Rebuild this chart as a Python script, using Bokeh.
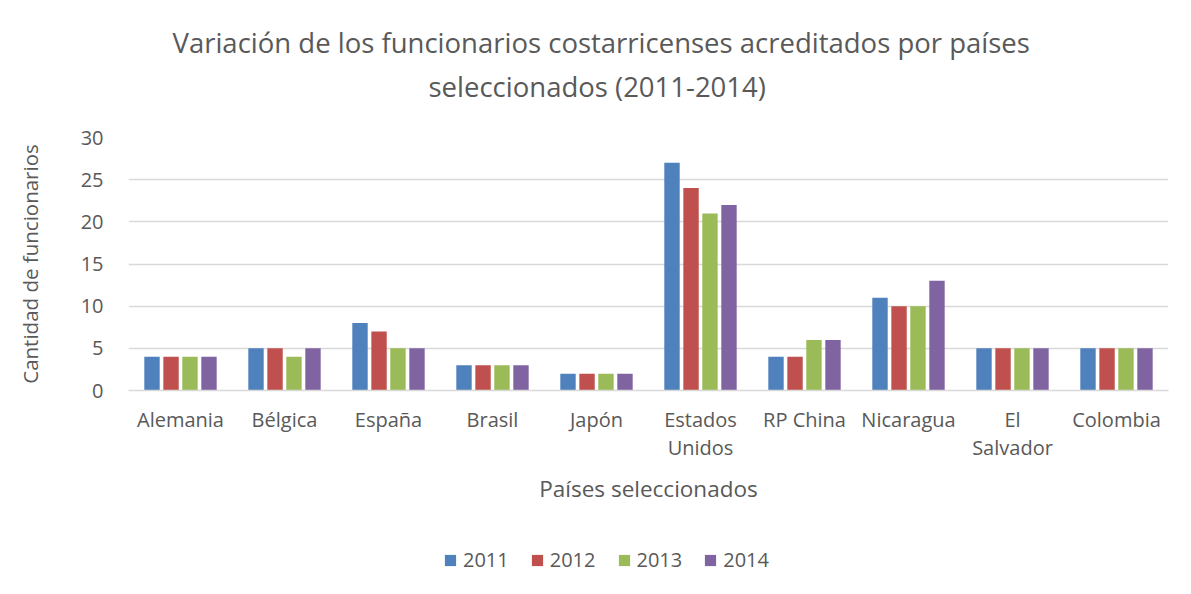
from bokeh.plotting import figure
from bokeh.layouts import column
from bokeh.models import ColumnDataSource, FactorRange, Range1d, Legend, LegendItem, Title, FixedTicker
from bokeh.transform import dodge
from bokeh.embed import file_html
from bokeh.resources import INLINE

countries = ["Alemania", "Bélgica", "España", "Brasil", "Japón", "Estados\nUnidos",
             "RP China", "Nicaragua", "El\nSalvador", "Colombia"]
years = ["2011", "2012", "2013", "2014"]
v2011 = [4, 5, 8, 3, 2, 27, 4, 11, 5, 5]
v2012 = [4, 5, 7, 3, 2, 24, 4, 10, 5, 5]
v2013 = [4, 4, 5, 3, 2, 21, 6, 10, 5, 5]
v2014 = [4, 5, 5, 3, 2, 22, 6, 13, 5, 5]
colors = ["#4F81BD", "#C0504D", "#9BBB59", "#8064A2"]
yticks = [0, 5, 10, 15, 20, 25, 30]

FONT = "Open Sans"
TXT = "#595959"

src = ColumnDataSource(dict(country=countries, y2011=v2011, y2012=v2012, y2013=v2013, y2014=v2014))
xr = FactorRange(*countries, range_padding=0)

p = figure(x_range=xr, y_range=Range1d(0, 30),
           frame_width=1040, frame_height=253, output_backend="svg", toolbar_location=None,
           min_border_left=128, min_border_right=15, min_border_top=137, min_border_bottom=140)
p.outline_line_color = None

offsets = [-0.274, -0.091, 0.091, 0.274]
cols = ["y2011", "y2012", "y2013", "y2014"]
for c, off, col in zip(cols, offsets, colors):
    p.vbar(x=dodge("country", off, range=xr), top=c, width=0.148, bottom=0,
           source=src, fill_color=col, line_color=None)

spacer = Title(text=" ", align="left", text_font=FONT, text_font_size="1px", standoff=27)
t2 = Title(text="seleccionados (2011-2014)", align="left", text_font=FONT, text_font_size="27.5px",
           text_color=TXT, text_font_style="normal", offset=300, standoff=6)
t1 = Title(text="Variación de los funcionarios costarricenses acreditados por países", align="left",
           text_font=FONT, text_font_size="27.5px", text_color=TXT, text_font_style="normal",
           offset=44, standoff=3)
p.add_layout(spacer, "above")
p.add_layout(t2, "above")
p.add_layout(t1, "above")

p.xgrid.grid_line_color = None
p.ygrid.grid_line_color = "#D9D9D9"
p.ygrid.grid_line_width = 1.5
p.yaxis.ticker = FixedTicker(ticks=yticks)

for ax in (p.xaxis[0], p.yaxis[0]):
    ax.major_tick_line_color = None
    ax.minor_tick_line_color = None
    ax.major_label_text_font = FONT
    ax.major_label_text_font_size = "20px"
    ax.major_label_text_color = TXT
    ax.axis_label_text_font = FONT
    ax.axis_label_text_color = TXT
    ax.axis_label_text_font_style = "normal"

p.yaxis.axis_line_color = None
p.yaxis.axis_label = "Cantidad de funcionarios"
p.yaxis.axis_label_text_font_size = "20.5px"
p.yaxis.major_label_standoff = 19
p.yaxis.axis_label_standoff = 34

p.xaxis.axis_line_color = "#D9D9D9"
p.xaxis.axis_line_width = 1.5
p.xaxis.axis_label = "Países seleccionados"
p.xaxis.axis_label_text_font_size = "22.5px"
p.xaxis.major_label_standoff = 9
p.xaxis.major_label_text_line_height = 1.05
p.xaxis.axis_label_standoff = 9

# legend strip below the chart (its bars lie outside its visible range)
lg = figure(frame_width=1040, frame_height=56, x_range=xr, y_range=Range1d(100, 101),
            output_backend="svg", toolbar_location=None,
            min_border_left=128, min_border_right=15, min_border_top=0, min_border_bottom=0)
lg.axis.visible = False
lg.grid.visible = False
lg.outline_line_color = None
legend_renderers = []
for c, off, col in zip(cols, offsets, colors):
    r = lg.vbar(x=dodge("country", off, range=xr), top=c, width=0.148, bottom=0,
                source=src, fill_color=col, line_color=None)
    legend_renderers.append(r)
legend = Legend(items=[LegendItem(label=y, renderers=[r]) for y, r in zip(years, legend_renderers)],
                orientation="horizontal", location=(315, 13), border_line_color=None,
                background_fill_alpha=0, label_text_font=FONT, label_text_font_size="20px",
                label_text_color=TXT, glyph_width=14, glyph_height=14, label_standoff=6,
                spacing=21, padding=0, margin=0)
lg.add_layout(legend)

layout = column(p, lg, spacing=0)
open("out.html", "w").write(file_html(layout, INLINE))
